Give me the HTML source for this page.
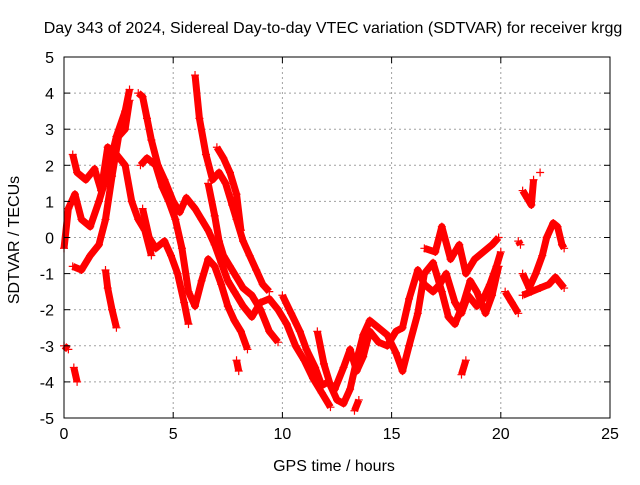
<!DOCTYPE html>
<html><head><meta charset="utf-8"><style>
body{margin:0;background:#fff}
svg text{font-family:"Liberation Sans",sans-serif;font-size:16px;fill:#000}
</style></head><body>
<svg id="chart" width="640" height="480">
<rect width="640" height="480" fill="#fff"/>
<text x="333" y="33" text-anchor="middle">Day 343 of 2024, Sidereal Day-to-day VTEC variation (SDTVAR) for receiver krgg</text>
<g id="grid"></g><g id="series"></g><g id="axes"></g>
<text x="334" y="471" text-anchor="middle">GPS time / hours</text>
<text transform="translate(19,240) rotate(-90)" text-anchor="middle">SDTVAR / TECUs</text>
</svg>
<script>
const xTicks=[0,5,10,15,20,25];
const yTicks=[-5,-4,-3,-2,-1,0,1,2,3,4,5];
const tracks=[
[[0,-0.3],[0.2,0.8],[0.5,1.2],[0.8,0.5],[1.2,0.3],[1.6,1.0],[2.0,1.8],[2.4,2.8],[2.8,3.5],[3.0,4.1]],
[[0.4,2.3],[0.6,1.8],[1.0,1.6],[1.4,1.9],[1.7,1.3],[2.0,2.5],[2.4,2.3],[2.8,2.0],[3.1,1.0],[3.4,0.5],[3.7,0.2],[4.0,-0.5]],
[[0.4,-0.8],[0.8,-0.9],[1.2,-0.5],[1.6,-0.2],[1.9,0.5],[2.2,1.7],[2.5,2.8],[2.8,3.0],[3.0,3.8]],
[[1.9,-0.9],[2.0,-1.4],[2.2,-2.0],[2.4,-2.5]],
[[0,-3.0],[0.2,-3.1]],
[[0.45,-3.6],[0.6,-4.0]],
[[3.4,4.0],[3.6,3.9],[3.8,3.3],[4.0,2.7],[4.3,2.0],[4.6,1.6],[5.0,1.0],[5.3,0.7],[5.6,1.1],[6.0,0.8],[6.3,0.5],[6.6,0.2],[6.9,-0.2],[7.2,-0.7],[7.5,-1.2],[7.8,-1.5],[8.2,-1.9],[8.6,-2.2],[9.0,-1.8],[9.4,-1.7],[9.8,-2.0],[10.2,-2.4],[10.6,-3.0],[11.0,-3.4],[11.4,-3.9],[11.8,-4.3],[12.2,-4.7]],
[[3.5,2.0],[3.8,2.2],[4.2,2.0],[4.5,1.4],[4.8,1.0],[5.1,0.5],[5.4,-0.3],[5.7,-1.5],[6.0,-1.9],[6.3,-1.2],[6.6,-0.6],[6.9,-0.8],[7.2,-1.3],[7.5,-1.9],[7.8,-2.3],[8.1,-2.6],[8.4,-3.1]],
[[3.6,0.8],[3.9,0.0],[4.2,-0.3],[4.6,-0.1],[4.9,-0.5],[5.2,-1.0],[5.5,-1.8],[5.7,-2.4]],
[[6.0,4.5],[6.2,3.3],[6.5,2.3],[6.8,1.6],[7.1,1.8],[7.4,1.5],[7.7,0.9],[7.9,0.5],[8.2,-0.1],[8.5,-0.5],[8.8,-0.9],[9.1,-1.3],[9.4,-1.5]],
[[6.6,1.5],[6.9,0.6],[7.1,-0.1],[7.3,-0.5],[7.6,-0.8],[7.9,-1.1],[8.2,-1.4],[8.6,-1.6],[9.0,-2.0],[9.4,-2.6],[9.8,-2.9]],
[[7.0,2.5],[7.3,2.2],[7.6,1.8],[7.9,1.2],[8.1,0.2]],
[[7.9,-3.4],[8.0,-3.7]],
[[10.0,-1.6],[10.4,-2.1],[10.8,-2.6],[11.1,-3.1],[11.5,-3.6],[11.8,-4.1],[12.1,-4.0],[12.4,-4.2],[12.8,-3.6],[13.1,-3.1],[13.4,-3.7],[13.7,-3.3],[14.0,-2.6],[14.4,-2.9],[14.8,-3.0],[15.2,-2.6],[15.5,-2.5],[15.8,-1.7],[16.2,-0.9],[16.5,-1.3],[16.9,-1.5],[17.2,-1.3],[17.5,-1.0],[17.9,-1.8],[18.2,-2.1],[18.5,-1.6],[18.9,-1.9],[19.2,-1.7],[19.5,-1.3],[19.8,-0.8],[20.0,-0.4]],
[[11.6,-2.6],[11.9,-3.5],[12.2,-4.1],[12.5,-4.5],[12.8,-4.6],[13.1,-4.2],[13.4,-3.4],[13.7,-2.7],[14.0,-2.3],[14.4,-2.5],[14.8,-2.7],[15.2,-3.2],[15.5,-3.7],[15.8,-3.0],[16.2,-2.1],[16.5,-1.0],[16.9,-0.7],[17.3,-1.5],[17.6,-2.2],[17.9,-2.4],[18.3,-1.8],[18.6,-1.2],[18.9,-1.5],[19.3,-2.1],[19.6,-1.6],[19.9,-0.8]],
[[13.3,-4.8],[13.5,-4.5]],
[[16.5,-0.3],[17.0,-0.4],[17.3,0.3],[17.7,-0.6],[18.1,-0.2],[18.4,-1.0],[18.8,-0.6],[19.2,-0.4],[19.6,-0.2],[19.9,0.0]],
[[18.2,-3.8],[18.4,-3.4]],
[[20.2,-1.5],[20.5,-1.8],[20.8,-2.1]],
[[20.8,-0.1],[20.9,-0.2]],
[[21.0,1.3],[21.2,1.1],[21.4,0.9],[21.5,1.6]],
[[21.8,1.8]],
[[21.0,-1.0],[21.3,-1.4],[21.6,-1.0],[21.9,-0.5],[22.1,0.0],[22.4,0.4],[22.6,0.3],[22.8,-0.2],[22.9,-0.3]],
[[21.0,-1.6],[21.4,-1.5],[21.8,-1.4],[22.2,-1.3],[22.5,-1.1],[22.9,-1.4]]
];
const NS="http://www.w3.org/2000/svg";
const L=64,R=610,T=57,B=418;
const xs=v=>L+(v-0)/25*(R-L);
const ys=v=>B-(v+5)/10*(B-T);
function mk(tag,attrs,parent){const e=document.createElementNS(NS,tag);for(const k in attrs)e.setAttribute(k,attrs[k]);parent.appendChild(e);return e;}
const grid=document.getElementById('grid'),axes=document.getElementById('axes'),ser=document.getElementById('series');
xTicks.forEach(t=>{const x=xs(t);
 if(t>0&&t<25){const g=mk('line',{x1:x,x2:x,y1:T,y2:B,stroke:'#a0a0a0','stroke-dasharray':'2,3'},grid);
 }
 mk('line',{x1:x,x2:x,y1:B,y2:B-6,stroke:'#000'},axes);mk('line',{x1:x,x2:x,y1:T,y2:T+6,stroke:'#000'},axes);
 const tx=mk('text',{x:x,y:B+21,'text-anchor':'middle'},axes);tx.textContent=t;
 });
yTicks.forEach(t=>{const y=ys(t);
 if(t>-5&&t<5){const g=mk('line',{x1:L,x2:R,y1:y,y2:y,stroke:'#a0a0a0','stroke-dasharray':'2,3'},grid);
 }
 mk('line',{x1:L,x2:L+6,y1:y,y2:y,stroke:'#000'},axes);mk('line',{x1:R,x2:R-6,y1:y,y2:y,stroke:'#000'},axes);
 const tx=mk('text',{x:L-10,y:y+6,'text-anchor':'end'},axes);tx.textContent=t;
 });
const fr=mk('rect',{x:L,y:T,width:R-L,height:B-T,fill:'none',stroke:'#000'},axes);

tracks.forEach(tr=>{
 const g=mk('g',{},ser);
 
 
 if(tr.length>1){mk('polyline',{points:tr.map(p=>xs(p[0])+','+ys(p[1])).join(' '),fill:'none',stroke:'#ff0000','stroke-width':7,'stroke-linejoin':'round'},g);}
 tr.forEach(p=>{const x=xs(p[0]),y=ys(p[1]);
  const m=mk('path',{d:`M${x-4},${y}H${x+4}M${x},${y-4}V${y+4}`,stroke:'#ff0000','stroke-width':1.2},g);
  
  });
});
</script>
</body></html>
